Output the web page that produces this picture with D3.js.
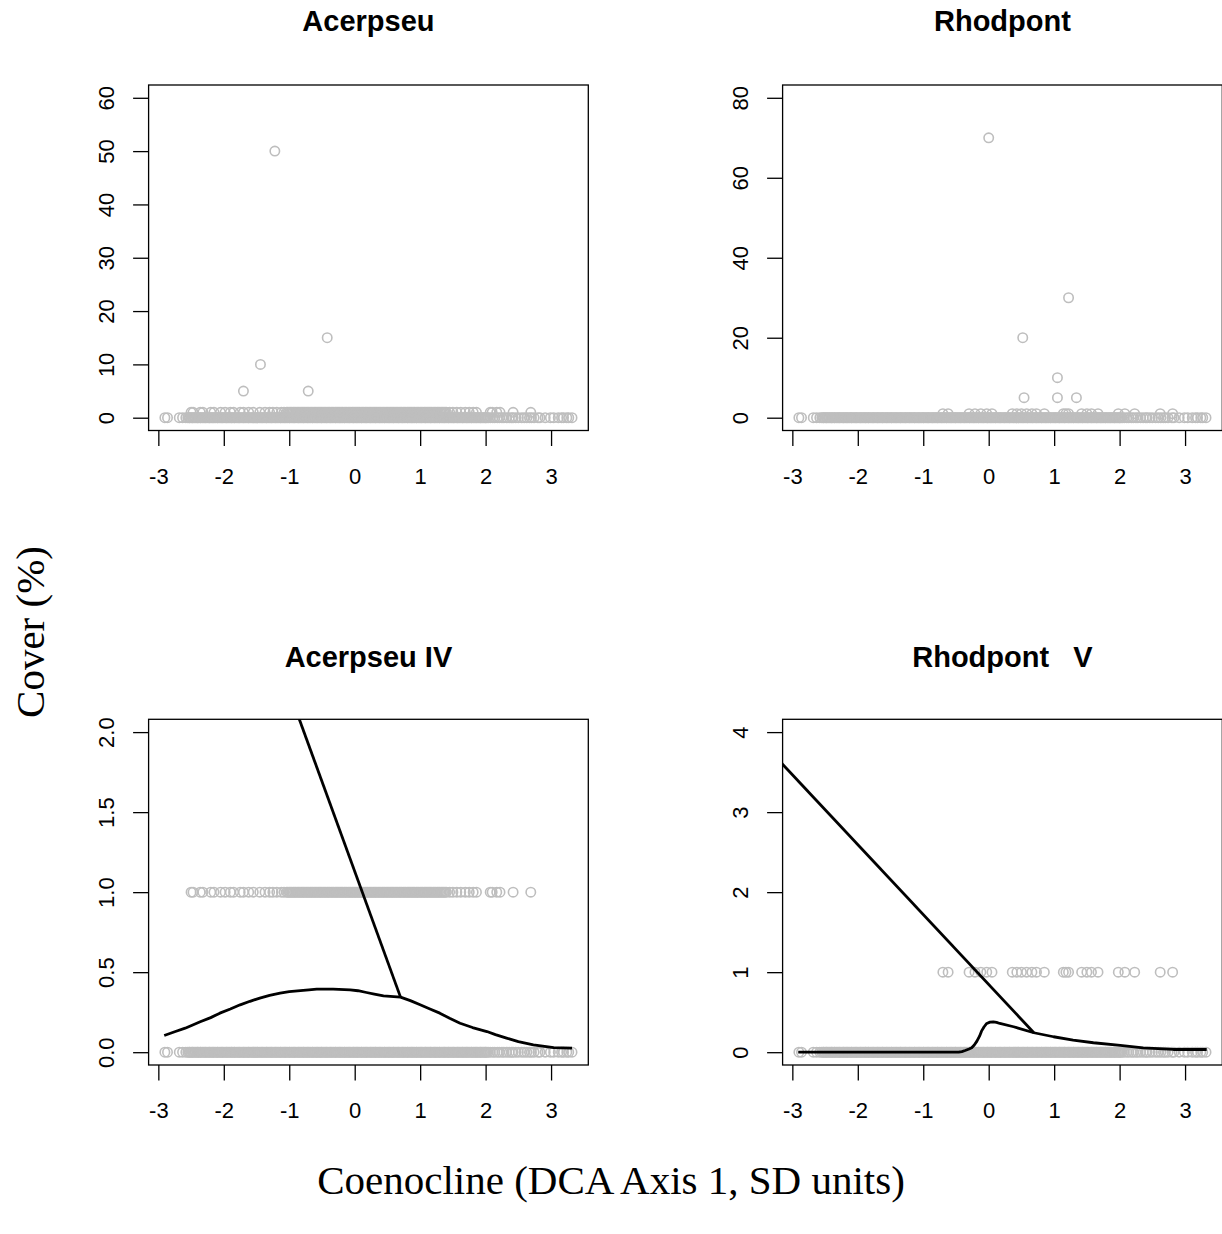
<!DOCTYPE html>
<html>
<head>
<meta charset="utf-8">
<title>Acerpseu / Rhodpont cover along the coenocline</title>
<script src="https://cdn.jsdelivr.net/npm/d3@7"></script>
<style>
  body { margin: 0; background: #fff; }
  text { font-family: "Liberation Sans", Arial, sans-serif; }
  text.serif { font-family: "Liberation Serif", "Times New Roman", serif; }
</style>
</head>
<body>
<script>
// ---- data ----
// DCA axis 1 scores of the plots (drawn at cover 0 in every panel)
var siteX = [-2.90, -2.86, -2.68, -2.63, -2.58,
  -2.55, -2.53, -2.52, -2.50, -2.48, -2.47, -2.45, -2.43, -2.41, -2.40, -2.38, -2.36, -2.35, -2.33, -2.31,
  -2.29, -2.28, -2.26, -2.24, -2.22, -2.21, -2.19, -2.17, -2.16, -2.14, -2.12, -2.10, -2.09, -2.07, -2.05,
  -2.03, -2.02, -2.00, -1.98, -1.96, -1.95, -1.93, -1.91, -1.89, -1.88, -1.86, -1.84, -1.83, -1.81, -1.79,
  -1.77, -1.76, -1.74, -1.72, -1.70, -1.69, -1.67, -1.65, -1.63, -1.62, -1.60, -1.58, -1.56, -1.55, -1.53,
  -1.51, -1.49, -1.48, -1.46, -1.44, -1.42, -1.41, -1.39, -1.37, -1.35, -1.34, -1.32, -1.30, -1.28, -1.27,
  -1.25, -1.23, -1.21, -1.20, -1.18, -1.16, -1.14, -1.13, -1.11, -1.09, -1.07, -1.06, -1.04, -1.02, -1.00,
  -0.99, -0.97, -0.95, -0.93, -0.92, -0.90, -0.88, -0.86, -0.85, -0.83, -0.81, -0.79, -0.78, -0.76, -0.74,
  -0.72, -0.71, -0.69, -0.67, -0.65, -0.64, -0.62, -0.60, -0.58, -0.57, -0.55, -0.53, -0.51, -0.50, -0.48,
  -0.46, -0.44, -0.43, -0.41, -0.39, -0.37, -0.36, -0.34, -0.32, -0.30, -0.29, -0.27, -0.25, -0.23, -0.22,
  -0.20, -0.18, -0.16, -0.15, -0.13, -0.11, -0.09, -0.08, -0.06, -0.04, -0.02, -0.01, 0.01, 0.03, 0.04,
  0.06, 0.08, 0.10, 0.11, 0.13, 0.15, 0.17, 0.18, 0.20, 0.22, 0.24, 0.25, 0.27, 0.29, 0.31, 0.32, 0.34,
  0.36, 0.38, 0.39, 0.41, 0.43, 0.45, 0.46, 0.48, 0.50, 0.52, 0.53, 0.55, 0.57, 0.59, 0.60, 0.62, 0.64,
  0.66, 0.67, 0.69, 0.71, 0.73, 0.74, 0.76, 0.78, 0.80, 0.81, 0.83, 0.85, 0.87, 0.88, 0.90, 0.92, 0.94,
  0.95, 0.97, 0.99, 1.01, 1.02, 1.04, 1.06, 1.08, 1.09, 1.11, 1.13, 1.15, 1.16, 1.18, 1.20, 1.22, 1.23,
  1.25, 1.27, 1.29, 1.30, 1.32, 1.34, 1.36, 1.37, 1.39, 1.41, 1.43, 1.44, 1.46, 1.48, 1.50, 1.51, 1.53,
  1.55, 1.57, 1.58, 1.60, 1.62, 1.64, 1.65, 1.67, 1.69, 1.71, 1.72, 1.74, 1.76, 1.78, 1.79, 1.81, 1.83,
  1.85, 1.86, 1.88, 1.90, 1.92, 1.93, 1.95, 1.97, 1.99, 2.00, 2.02, 2.04,
  2.07, 2.11, 2.14, 2.18, 2.21, 2.25, 2.28, 2.32, 2.36, 2.40, 2.42, 2.46, 2.50, 2.55, 2.59, 2.63, 2.67,
  2.70, 2.74, 2.80, 2.83, 2.91, 2.99, 3.04, 3.11, 3.16, 3.19, 3.24, 3.27, 3.32];

// Acerpseu present at cover 1 (also the presences of Acerpseu IV)
var acerPresX = [-2.50, -2.47, -2.36, -2.32, -2.20, -2.15, -2.05, -1.98, -1.90, -1.85, -1.75, -1.70,
  -1.62, -1.55, -1.45, -1.37, -1.30, -1.25, -1.19, -1.12, -1.08,
  -1.04, -1.02, -1.00, -0.98, -0.96, -0.94, -0.92, -0.90, -0.88, -0.86, -0.84, -0.82, -0.80, -0.78, -0.76,
  -0.74, -0.72, -0.70, -0.68, -0.66, -0.64, -0.62, -0.60, -0.58, -0.56, -0.54, -0.52, -0.50, -0.48, -0.46,
  -0.44, -0.42, -0.40, -0.38, -0.36, -0.34, -0.32, -0.30, -0.28, -0.26, -0.24, -0.22, -0.20, -0.18, -0.16,
  -0.14, -0.12, -0.10, -0.08, -0.06, -0.04, -0.02, 0.00, 0.02, 0.04, 0.06, 0.08, 0.10, 0.12, 0.14, 0.16,
  0.18, 0.20, 0.22, 0.24, 0.26, 0.28, 0.30, 0.32, 0.34, 0.36, 0.38, 0.40, 0.42, 0.44, 0.46, 0.48, 0.50,
  0.52, 0.54, 0.56, 0.58, 0.60, 0.62, 0.64, 0.66, 0.68, 0.70, 0.72, 0.74, 0.76, 0.78, 0.80, 0.82, 0.84,
  0.86, 0.88, 0.90, 0.92, 0.94, 0.96, 0.98, 1.00, 1.02, 1.04, 1.06, 1.08, 1.10, 1.12, 1.14, 1.16, 1.18,
  1.20, 1.22, 1.24, 1.26, 1.28, 1.30, 1.32, 1.34, 1.36, 1.38, 1.40,
  1.45, 1.50, 1.56, 1.62, 1.69, 1.75, 1.81, 1.86, 2.07, 2.10, 2.17, 2.22, 2.42, 2.69];
// Acerpseu plots with larger cover
var acerHighX = [-1.70, -1.44, -1.22, -0.71, -0.42];
var acerHighY = [5, 10, 50, 5, 15];

// Rhodpont present at cover 1 (also the presences of Rhodpont V)
var rhodPresX = [-0.70, -0.62, -0.30, -0.21, -0.12, -0.03, 0.05, 0.36, 0.43, 0.50, 0.58, 0.66, 0.73,
  0.85, 1.14, 1.18, 1.22, 1.42, 1.50, 1.57, 1.67, 1.98, 2.08, 2.23, 2.62, 2.81];
var rhodHighX = [0.00, 0.52, 0.54, 1.05, 1.05, 1.22, 1.34];
var rhodHighY = [70, 20, 5, 10, 5, 30, 5];

// fitted response curves (lower panels)
var acerFitX = [-2.91, -2.75, -2.59, -2.36, -2.20, -2.06, -1.90, -1.75, -1.60, -1.45, -1.30, -1.14, -1.00,
  -0.83, -0.70, -0.58, -0.33, -0.07, 0.05, 0.18, 0.30, 0.44, 0.70, 0.85, 1.00, 1.15, 1.30, 1.45, 1.61, 1.80,
  2.02, 2.15, 2.32, 2.50, 2.73, 2.90, 3.04, 3.32];
var acerFitY = [0.104, 0.128, 0.150, 0.190, 0.216, 0.244, 0.270, 0.296, 0.318, 0.338, 0.355, 0.369, 0.378,
  0.385, 0.390, 0.394, 0.394, 0.390, 0.384, 0.373, 0.363, 0.352, 0.344, 0.322, 0.296, 0.270, 0.244, 0.212,
  0.181, 0.154, 0.129, 0.110, 0.088, 0.066, 0.046, 0.036, 0.029, 0.025];
var acerStrayX = [-3.50, 0.70];
var acerStrayY = [5.06, 0.344];

var rhodFitX = [-2.91, -0.46, -0.41, -0.36, -0.30, -0.26, -0.22, -0.18, -0.14, -0.11, -0.07, -0.03, 0.02,
  0.07, 0.12, 0.17, 0.38, 0.69, 0.99, 1.29, 1.60, 2.01, 2.36, 2.82, 3.33];
var rhodFitY = [0, 0, 0.008, 0.021, 0.040, 0.055, 0.090, 0.138, 0.200, 0.263, 0.318, 0.359, 0.376,
  0.380, 0.372, 0.359, 0.318, 0.243, 0.193, 0.150, 0.118, 0.084, 0.055, 0.034, 0.034];
var rhodStrayX = [-3.50, 0.69];
var rhodStrayY = [3.905, 0.243];

var xTicks = [-3, -2, -1, 0, 1, 2, 3];

// ---- layout ----
var W = 1222, H = 1234;
var svg = d3.select("body").append("svg").attr("width", W).attr("height", H);

var colX = [[148.6, 588.3], [782.6, 1222.3]];
var rowY = [[85, 430.5], [719.3, 1065]];
var grey = "#bebebe";

function pad(lo, hi) { var d = (hi - lo) * 0.04; return [lo - d, hi + d]; }

function panel(id, col, row, title, ylim, yTicks, yFmt, pts, lines) {
  var x0 = colX[col][0], x1 = colX[col][1], y0 = rowY[row][0], y1 = rowY[row][1];
  var x = d3.scaleLinear().domain(pad(-2.90, 3.32)).range([x0, x1]);
  var y = d3.scaleLinear().domain(pad(ylim[0], ylim[1])).range([y1, y0]);

  svg.append("clipPath").attr("id", "clip" + id)
    .append("rect").attr("x", x0).attr("y", y0).attr("width", x1 - x0).attr("height", y1 - y0);

  var g = svg.append("g");
  var pg = g.append("g").attr("clip-path", "url(#clip" + id + ")");

  pts.forEach(function (s) {
    pg.append("g").selectAll("circle").data(s.x).enter().append("circle")
      .attr("cx", function (d) { return x(d); })
      .attr("cy", function (d, i) { return y(s.y[i]); })
      .attr("r", 4.7)
      .attr("fill", "none").attr("stroke", grey).attr("stroke-width", 1.6);
  });

  var line = d3.line().x(function (d) { return x(d[0]); }).y(function (d) { return y(d[1]); });
  lines.forEach(function (l) {
    pg.append("path").datum(d3.zip(l.x, l.y)).attr("d", line)
      .attr("fill", "none").attr("stroke", "#000").attr("stroke-width", 2.8)
      .attr("stroke-linejoin", "round");
  });

  // box
  g.append("rect").attr("x", x0).attr("y", y0).attr("width", x1 - x0).attr("height", y1 - y0)
    .attr("fill", "none").attr("stroke", "#000").attr("stroke-width", 1.3);

  // x axis
  var xa = g.append("g").attr("transform", "translate(0," + y1 + ")")
    .call(d3.axisBottom(x).tickValues(xTicks).tickSize(15.5).tickSizeOuter(0).tickPadding(0)
      .tickFormat(function (d) { return d < 0 ? "-" + Math.abs(d) : d; }));
  xa.select(".domain").remove();
  xa.selectAll("line").attr("stroke-width", 1.3);
  xa.selectAll("text").attr("y", 53).attr("dy", null)
    .attr("font-size", 22).attr("font-family", null).attr("fill", "#000");

  // y axis
  var ya = g.append("g").attr("transform", "translate(" + x0 + ",0)")
    .call(d3.axisLeft(y).tickValues(yTicks).tickSize(15.5).tickSizeOuter(0).tickFormat(yFmt));
  ya.select(".domain").remove();
  ya.selectAll("line").attr("stroke-width", 1.3);
  ya.selectAll(".tick text")
    .attr("x", null).attr("dy", null).attr("text-anchor", "middle")
    .attr("transform", "translate(-35,0) rotate(-90)")
    .attr("font-size", 22).attr("font-family", null).attr("fill", "#000");

  g.append("text").attr("x", (x0 + x1) / 2).attr("y", y0 - (row ? 52 : 54))
    .attr("text-anchor", "middle").attr("font-weight", "bold").attr("font-size", 29)
    .style("white-space", "pre").text(title);
}

var f0 = d3.format("d"), f1 = d3.format(".1f");

panel("a", 0, 0, "Acerpseu", [0, 60], [0, 10, 20, 30, 40, 50, 60], f0, [
  { x: siteX, y: siteX.map(function () { return 0; }) },
  { x: acerPresX, y: acerPresX.map(function () { return 1; }) },
  { x: acerHighX, y: acerHighY }
], []);

panel("b", 1, 0, "Rhodpont", [0, 80], [0, 20, 40, 60, 80], f0, [
  { x: siteX, y: siteX.map(function () { return 0; }) },
  { x: rhodPresX, y: rhodPresX.map(function () { return 1; }) },
  { x: rhodHighX, y: rhodHighY }
], []);

panel("c", 0, 1, "Acerpseu IV", [0, 2], [0, 0.5, 1, 1.5, 2], f1, [
  { x: siteX, y: siteX.map(function () { return 0; }) },
  { x: acerPresX, y: acerPresX.map(function () { return 1; }) }
], [{ x: acerFitX, y: acerFitY }, { x: acerStrayX, y: acerStrayY }]);

panel("d", 1, 1, "Rhodpont   V", [0, 4], [0, 1, 2, 3, 4], f0, [
  { x: siteX, y: siteX.map(function () { return 0; }) },
  { x: rhodPresX, y: rhodPresX.map(function () { return 1; }) }
], [{ x: rhodFitX, y: rhodFitY }, { x: rhodStrayX, y: rhodStrayY }]);

// outer axis titles
svg.append("text").attr("class", "serif").attr("x", 611).attr("y", 1194).attr("text-anchor", "middle")
  .attr("font-size", 41).text("Coenocline (DCA Axis 1, SD units)");

svg.append("text").attr("class", "serif").attr("transform", "translate(44,632) rotate(-90)")
  .attr("text-anchor", "middle").attr("font-size", 41).text("Cover (%)");
</script>
</body>
</html>
